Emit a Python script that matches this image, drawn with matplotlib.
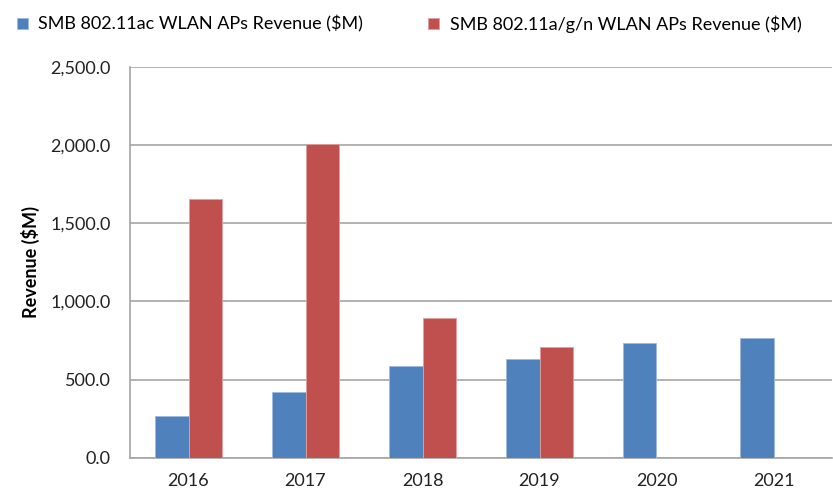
import matplotlib.pyplot as plt
import numpy as np

plt.rcParams['font.family'] = ['Lato', 'DejaVu Sans']

years = ["2016", "2017", "2018", "2019", "2020", "2021"]
ac_revenue = [268, 423, 587, 632, 732, 764]
agn_revenue = [1652, 2003, 894, 709, 0, 0]
yticks = [0, 500, 1000, 1500, 2000, 2500]

blue = "#4F81BD"
red = "#C0504D"
grid_gray = "#A6A6A6"

fig = plt.figure(figsize=(8.33, 4.92), dpi=100)
ax = fig.add_axes([130 / 833, 1 - 458 / 492, 702 / 833, (458 - 66.7) / 492])

x = np.arange(len(years))
w = 0.283
ax.bar(x - w / 2, ac_revenue, w, color=blue, edgecolor="#9DB8DD", linewidth=0.6,
       label="SMB 802.11ac WLAN APs Revenue ($M)", zorder=3)
ax.bar(x + w / 2, agn_revenue, w, color=red, edgecolor="#E0A09E", linewidth=0.6,
       label="SMB 802.11a/g/n WLAN APs Revenue ($M)", zorder=3)

ax.set_xlim(-0.5, len(years) - 0.5)
ax.set_ylim(0, 2500)
ax.set_xticks(x)
ax.set_xticklabels(years)
ax.set_yticks(yticks)
ax.set_yticklabels([f"{v:,.1f}" for v in yticks])
ax.tick_params(axis="both", length=0, labelsize=13, colors="#222222")
ax.tick_params(axis="x", pad=11)
ax.tick_params(axis="y", pad=14)

ax.grid(axis="y", color=grid_gray, linewidth=1.2, zorder=0)
for s in ["top", "right"]:
    ax.spines[s].set_visible(False)
for s in ["left", "bottom"]:
    ax.spines[s].set_color(grid_gray)
    ax.spines[s].set_linewidth(1.2)

ax.set_ylabel("Revenue ($M)", fontsize=13, fontweight="bold", labelpad=7)

fig.legend(loc="upper left", bbox_to_anchor=(0.005, 0.995), ncol=2, frameon=False,
           fontsize=13, handlelength=0.6, handleheight=0.6, handletextpad=0.6,
           columnspacing=3.6, borderaxespad=0.3)

fig.savefig("out.png", dpi=100)
